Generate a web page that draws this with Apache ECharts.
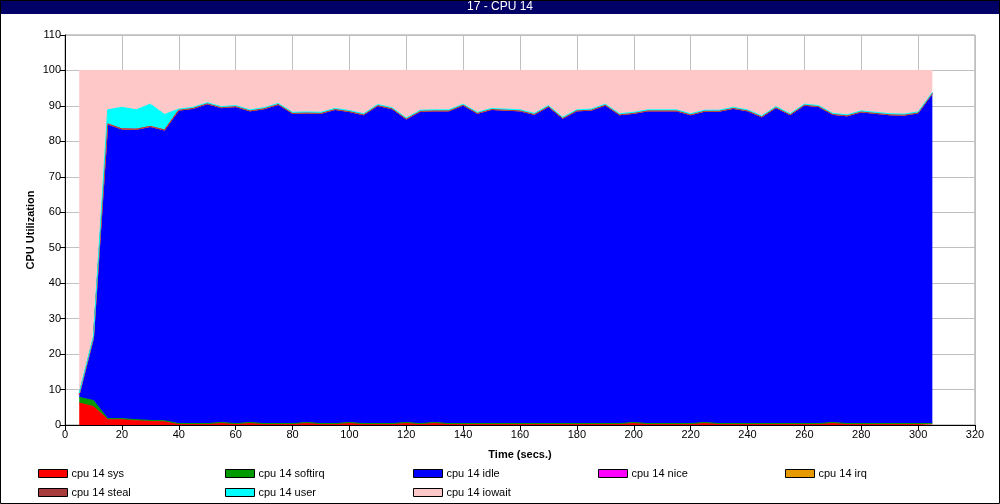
<!DOCTYPE html>
<html><head><meta charset="utf-8">
<script src="https://cdn.jsdelivr.net/npm/echarts@6/dist/echarts.min.js"></script>
<style>html,body{margin:0;padding:0;background:#fff}#c{width:1000px;height:504px}</style>
</head><body><div id="c"></div>
<script>
const xSlots = [0,5,10,15,20,25,30,35,40,45,50,55,60,65,70,75,80,85,90,95,100,105,110,115,120,125,130,135,140,145,150,155,160,165,170,175,180,185,190,195,200,205,210,215,220,225,230,235,240,245,250,255,260,265,270,275,280,285,290,295,300,305,310,315,320];
const times = [5,10,15,20,25,30,35,40,45,50,55,60,65,70,75,80,85,90,95,100,105,110,115,120,125,130,135,140,145,150,155,160,165,170,175,180,185,190,195,200,205,210,215,220,225,230,235,240,245,250,255,260,265,270,275,280,285,290,295,300,305];
const sysVals = [6.2,5.2,1.6,1.6,1.3,1.1,1.0,0.3,0.3,0.3,0.6,0.3,0.6,0.3,0.3,0.3,0.6,0.3,0.3,0.6,0.3,0.3,0.3,0.6,0.3,0.6,0.3,0.3,0.3,0.3,0.3,0.3,0.3,0.3,0.3,0.3,0.3,0.3,0.3,0.6,0.3,0.3,0.3,0.3,0.6,0.3,0.3,0.3,0.3,0.3,0.3,0.3,0.3,0.6,0.3,0.3,0.3,0.3,0.3,0.3,0.3];
const softirqVals = [1.6,1.7,0.2,0.2,0.2,0.2,0.2,0.1,0.1,0.1,0.1,0.1,0.1,0.1,0.1,0.1,0.1,0.1,0.1,0.1,0.1,0.1,0.1,0.1,0.1,0.1,0.1,0.1,0.1,0.1,0.1,0.1,0.1,0.1,0.1,0.1,0.1,0.1,0.1,0.1,0.1,0.1,0.1,0.1,0.1,0.1,0.1,0.1,0.1,0.1,0.1,0.1,0.1,0.1,0.1,0.1,0.1,0.1,0.1,0.1,0.1];
const idleVals = [0.8,17.6,83.1,81.7,81.9,82.9,82.0,88.4,88.9,90.2,88.8,89.4,87.9,88.8,90.0,87.5,87.3,87.5,88.6,87.7,87.1,89.7,88.8,85.6,88.1,87.9,88.2,89.8,87.5,88.6,88.4,88.2,87.2,89.4,86.1,88.2,88.4,89.8,87.1,87.2,88.2,88.2,88.2,87.1,87.8,88.1,88.9,88.2,86.5,89.1,87.1,89.8,89.4,86.9,86.8,87.9,87.5,87.1,87.0,87.6,93.1];
const niceVals = times.map(() => 0);
const irqVals = times.map(() => 0);
const stealVals = times.map(() => 0);
const userVals = [0.4,0.5,4.0,6.1,5.5,6.3,4.4,0.3,0.3,0.3,0.3,0.3,0.3,0.3,0.3,0.3,0.3,0.3,0.3,0.3,0.3,0.3,0.3,0.3,0.3,0.3,0.3,0.3,0.3,0.3,0.3,0.3,0.3,0.3,0.3,0.3,0.3,0.3,0.3,0.3,0.3,0.3,0.3,0.3,0.3,0.3,0.3,0.3,0.3,0.3,0.3,0.3,0.3,0.3,0.3,0.3,0.3,0.3,0.3,0.3,0.3];
const iowaitVals = [91.0,75.0,11.1,10.4,11.1,9.5,12.4,10.9,10.4,9.1,10.2,9.9,11.1,10.5,9.3,11.8,11.7,11.8,10.7,11.3,12.2,9.6,10.5,13.4,11.2,11.1,11.1,9.5,11.8,10.7,10.9,11.1,12.1,9.9,13.2,11.1,10.9,9.5,12.2,11.8,11.1,11.1,11.1,12.2,11.2,11.2,10.4,11.1,12.8,10.2,12.2,9.5,9.9,12.1,12.5,11.4,11.8,12.2,12.3,11.7,6.2];
const seriesNames = ['cpu 14 sys','cpu 14 softirq','cpu 14 idle','cpu 14 nice','cpu 14 irq','cpu 14 steal','cpu 14 user','cpu 14 iowait'];
const seriesColors = ['#ff0000','#009900','#0000ff','#ff00ff','#e69a00','#a83c3c','#00ffff','#ffc8c8'];
const seriesData = [sysVals,softirqVals,idleVals,niceVals,irqVals,stealVals,userVals,iowaitVals];

const font = 'Liberation Sans, Arial, sans-serif';
const chart = echarts.init(document.getElementById('c'), null, {renderer:'canvas'});
const legendPos = [[38,468],[225,468],[413,468],[598,468],[785,468],[38,487],[225,487],[413,487]];
const legends = seriesNames.map((n,i) => ({
  data:[n], left:legendPos[i][0], top:legendPos[i][1], itemWidth:29, itemHeight:8, icon:'rect',
  selectedMode:false, padding:0, itemGap:0,
  itemStyle:{borderColor:'#000',borderWidth:1},
  textStyle:{fontFamily:font,fontSize:11,color:'#000',padding:[0,0,0,-1]}
}));
function alignTo(vals){
  return xSlots.map(s => { const k = times.indexOf(s); return k >= 0 ? vals[k] : null; });
}
chart.setOption({
  animation:false,
  backgroundColor:'#fff',
  graphic:[
    {type:'rect',shape:{x:0.5,y:0.5,width:999,height:503},style:{fill:'none',stroke:'#000',lineWidth:1},z:100},
    {type:'rect',shape:{x:0,y:0,width:1000,height:14},style:{fill:'#000066'},z:99},
    {type:'text',left:'center',top:1,style:{text:'17 - CPU 14',fill:'#fff',font:'12px '+font},z:101}
  ],
  legend:legends,
  grid:{left:65,right:25,top:35,bottom:79,show:true,borderColor:'#999',borderWidth:1},
  xAxis:{type:'category',data:xSlots,boundaryGap:false,
    name:'Time (secs.)',nameLocation:'middle',nameGap:24,
    nameTextStyle:{fontFamily:font,fontSize:11,fontWeight:'bold',color:'#000'},
    axisLine:{show:true,onZero:false,lineStyle:{color:'#000',width:1}},
    axisTick:{show:true,length:5,interval:3,lineStyle:{color:'#000'}},
    axisLabel:{fontFamily:font,fontSize:11,color:'#000',margin:4,interval:3},
    splitLine:{show:true,interval:3,lineStyle:{color:'#c0c0c0',width:1}}},
  yAxis:{type:'value',min:0,max:110,interval:10,
    name:'CPU Utilization',nameLocation:'middle',nameGap:29,nameMoveOverlap:false,
    nameTextStyle:{fontFamily:font,fontSize:11,fontWeight:'bold',color:'#000'},
    axisLine:{show:true,lineStyle:{color:'#000',width:1}},
    axisTick:{show:true,length:5,lineStyle:{color:'#000'}},
    axisLabel:{fontFamily:font,fontSize:11,color:'#000',margin:4},
    splitLine:{show:true,lineStyle:{color:'#c0c0c0',width:1}}},
  series:seriesNames.map((n,i) => ({
    name:n,type:'line',stack:'cpu',symbol:'none',connectNulls:false,
    data:alignTo(seriesData[i]),
    itemStyle:{color:seriesColors[i]},
    lineStyle:{color:seriesColors[i],width:1},
    areaStyle:{color:seriesColors[i],opacity:1}
  }))
});
</script></body></html>
